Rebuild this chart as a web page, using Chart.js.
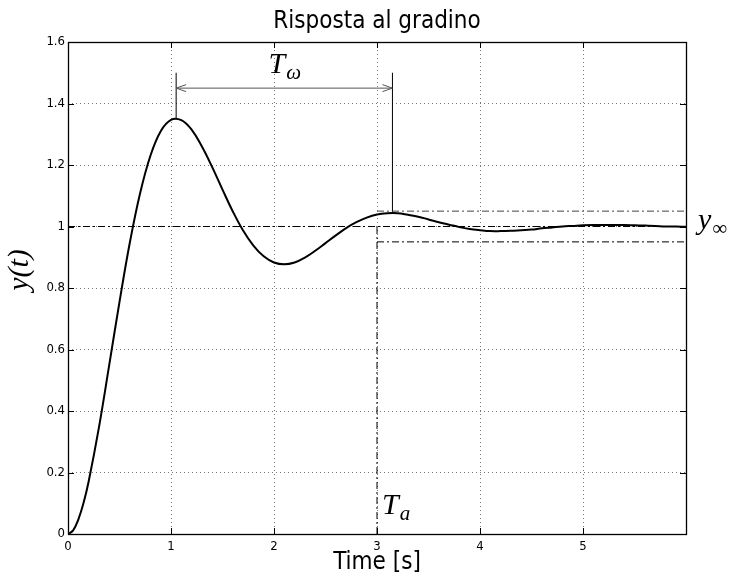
<!DOCTYPE html>
<html>
<head>
<meta charset="utf-8">
<script src="https://cdn.jsdelivr.net/npm/chart.js@4.4.0/dist/chart.umd.min.js"></script>
<style>
    html, body { margin: 0; padding: 0; background: #fff; }
    #wrap { width: 732px; height: 578px; }
</style>
</head>
<body>
<div id="wrap"><canvas id="gradinoChart"></canvas></div>
<script>
// Dati (risposta al gradino)
const time = [0, 0.05, 0.1, 0.15, 0.2, 0.3, 0.4, 0.5, 0.6, 0.7, 0.8, 0.9,
    1.0, 1.1, 1.2, 1.3, 1.4, 1.5, 1.6, 1.7, 1.8, 1.9,
    2.0, 2.1, 2.2, 2.3, 2.4, 2.5, 2.6, 2.7, 2.8, 2.9,
    3.0, 3.1, 3.2, 3.3, 3.4, 3.5, 3.6, 3.7, 3.8, 3.9,
    4.0, 4.1, 4.2, 4.3, 4.4, 4.5, 4.6, 4.7, 4.8, 4.9,
    5.0, 5.1, 5.2, 5.3, 5.4, 5.5, 5.6, 5.7, 5.8, 5.9, 6.0];
const response = [0, 0.012, 0.047, 0.100, 0.170, 0.346, 0.549, 0.755, 0.947, 1.108, 1.230, 1.310,
    1.347, 1.346, 1.315, 1.260, 1.193, 1.120, 1.049, 0.987, 0.938, 0.903,
    0.883, 0.877, 0.883, 0.899, 0.921, 0.946, 0.971, 0.995, 1.014, 1.029,
    1.039, 1.043, 1.043, 1.038, 1.032, 1.023, 1.014, 1.006, 0.998, 0.992,
    0.988, 0.985, 0.985, 0.986, 0.988, 0.990, 0.994, 0.997, 1.000, 1.002,
    1.004, 1.005, 1.005, 1.005, 1.005, 1.004, 1.003, 1.002, 1.000, 1.000, 0.999];

// Etichette degli assi
const xTickLabels = ['0', '1', '2', '3', '4', '5', ''];
const yTickLabels = ['0', '0.2', '0.4', '0.6', '0.8', '1', '1.2', '1.4', '1.6'];

// Valori delle annotazioni
const finalValue = 1;
const bandLimits = [1.05, 0.95];
const settleTime = 3.0;
const peakTimes = [1.05, 3.15];
const peakValues = [1.35, 1.043];
const markerTop = 1.5;
const arrowLevel = 1.45;
const tMax = 6;

const SANS = "'DejaVu Sans Condensed', 'Liberation Sans', sans-serif";
const SERIF = "'Liberation Serif', 'DejaVu Serif', serif";
const DASH_DOT = [7, 3, 2, 3];

function seg(x0, y0, x1, y1) {
    return [{ x: x0, y: y0 }, { x: x1, y: y1 }];
}

function lineSet(data, color, width, dash) {
    return {
        data: data,
        borderColor: color,
        borderWidth: width,
        borderDash: dash || [],
        pointRadius: 0,
        tension: 0,
        fill: false
    };
}

// Testo matematico con pedice (T_ω, T_a, y_∞)
function mathLabel(ctx, base, sub, x, y, center, subUpright) {
    const fBase = 'italic 30px ' + SERIF;
    const fSub = (subUpright ? '' : 'italic ') + '21px ' + SERIF;
    ctx.font = fBase;
    const w1 = ctx.measureText(base).width;
    ctx.font = fSub;
    const w2 = ctx.measureText(sub).width;
    const left = center ? x - (w1 + w2) / 2 : x;
    ctx.textAlign = 'left';
    ctx.textBaseline = 'alphabetic';
    ctx.fillStyle = '#000';
    ctx.font = fBase;
    ctx.fillText(base, left, y);
    ctx.font = fSub;
    ctx.fillText(sub, left + w1 + 1, y + 6);
}

// Cornice, tacche interne, frecce e testi
const decorPlugin = {
    id: 'decor',
    afterDatasetsDraw(chart) {
        const ctx = chart.ctx;
        const a = chart.chartArea;
        const xs = chart.scales.x;
        const ys = chart.scales.y;
        ctx.save();

        // tacche interne
        ctx.strokeStyle = '#000';
        ctx.lineWidth = 1;
        ctx.beginPath();
        xs.ticks.forEach(t => {
            const px = Math.round(xs.getPixelForValue(t.value)) + 0.5;
            ctx.moveTo(px, a.bottom); ctx.lineTo(px, a.bottom - 6);
            ctx.moveTo(px, a.top); ctx.lineTo(px, a.top + 6);
        });
        ys.ticks.forEach(t => {
            const py = Math.round(ys.getPixelForValue(t.value)) + 0.5;
            ctx.moveTo(a.left, py); ctx.lineTo(a.left + 6, py);
            ctx.moveTo(a.right, py); ctx.lineTo(a.right - 6, py);
        });
        ctx.stroke();

        // cornice
        ctx.lineWidth = 1.3;
        ctx.strokeRect(Math.round(a.left) + 0.5, Math.round(a.top) + 0.5,
            Math.round(a.right - a.left), Math.round(a.bottom - a.top));

        // punte della freccia T_omega
        const ay = ys.getPixelForValue(arrowLevel);
        const x0 = xs.getPixelForValue(peakTimes[0]);
        const x1 = xs.getPixelForValue(peakTimes[1]);
        ctx.strokeStyle = '#555';
        ctx.lineWidth = 1;
        ctx.beginPath();
        ctx.moveTo(x0 + 10, ay - 3.5); ctx.lineTo(x0, ay); ctx.lineTo(x0 + 10, ay + 3.5);
        ctx.moveTo(x1 - 10, ay - 3.5); ctx.lineTo(x1, ay); ctx.lineTo(x1 - 10, ay + 3.5);
        ctx.stroke();

        // etichette
        mathLabel(ctx, 'T', 'ω', (x0 + x1) / 2, ys.getPixelForValue(markerTop), true, false);
        mathLabel(ctx, 'T', 'a', xs.getPixelForValue(settleTime) + 5, ys.getPixelForValue(0) - 20, false, false);
        mathLabel(ctx, 'y', '∞', a.right + 12, ys.getPixelForValue(finalValue) + 2, false, true);

        // titolo asse y
        ctx.translate(20, 270);
        ctx.rotate(-Math.PI / 2);
        ctx.font = 'italic 30px ' + SERIF;
        ctx.textAlign = 'center';
        ctx.textBaseline = 'middle';
        ctx.fillText('y(t)', 0, 0);
        ctx.restore();
    }
};

const curve = time.map((t, i) => ({ x: t, y: response[i] }));

new Chart(document.getElementById('gradinoChart'), {
    type: 'line',
    data: {
        datasets: [
            Object.assign(lineSet(curve, '#000', 2), { tension: 0.4 }),
            lineSet(seg(0, finalValue, tMax, finalValue), '#000', 1, DASH_DOT),
            lineSet(seg(settleTime, bandLimits[0], tMax, bandLimits[0]), '#444', 1, DASH_DOT),
            lineSet(seg(settleTime, bandLimits[1], tMax, bandLimits[1]), '#000', 1, DASH_DOT),
            lineSet(seg(settleTime, 0, settleTime, finalValue), '#000', 1, DASH_DOT),
            lineSet(seg(peakTimes[0], peakValues[0], peakTimes[0], markerTop), '#000', 1),
            lineSet(seg(peakTimes[1], peakValues[1], peakTimes[1], markerTop), '#000', 1),
            lineSet(seg(peakTimes[0], arrowLevel, peakTimes[1], arrowLevel), '#555', 1)
        ]
    },
    options: {
        responsive: true,
        maintainAspectRatio: false,
        animation: false,
        layout: { padding: { left: 0, right: 46, top: 0, bottom: 0 } },
        plugins: {
            legend: { display: false },
            tooltip: { enabled: false },
            title: {
                display: true,
                text: 'Risposta al gradino',
                fullSize: false,
                color: '#000',
                font: { family: SANS, size: 24, weight: 'normal' },
                padding: { top: 7, bottom: 6.2 }
            }
        },
        scales: {
            x: {
                type: 'linear',
                min: 0,
                max: tMax,
                afterFit: s => { s.height = 44; },
                ticks: {
                    stepSize: 1,
                    autoSkip: false,
                    maxRotation: 0,
                    padding: 5,
                    color: '#000',
                    font: { family: SANS, size: 13 },
                    callback: (v, i) => xTickLabels[i]
                },
                grid: { color: '#777', drawTicks: false },
                border: { display: false, dash: [1, 3] },
                title: {
                    display: true,
                    text: 'Time [s]',
                    color: '#000',
                    font: { family: SANS, size: 24 },
                    padding: { top: 0, bottom: 1 }
                }
            },
            y: {
                min: 0,
                max: 1.6,
                afterFit: s => { s.width = 68; },
                ticks: {
                    stepSize: 0.2,
                    padding: 3,
                    color: '#000',
                    font: { family: SANS, size: 13 },
                    callback: (v, i) => yTickLabels[i]
                },
                grid: { color: '#777', drawTicks: false },
                border: { display: false, dash: [1, 3] }
            }
        }
    },
    plugins: [decorPlugin]
});
</script>
</body>
</html>
